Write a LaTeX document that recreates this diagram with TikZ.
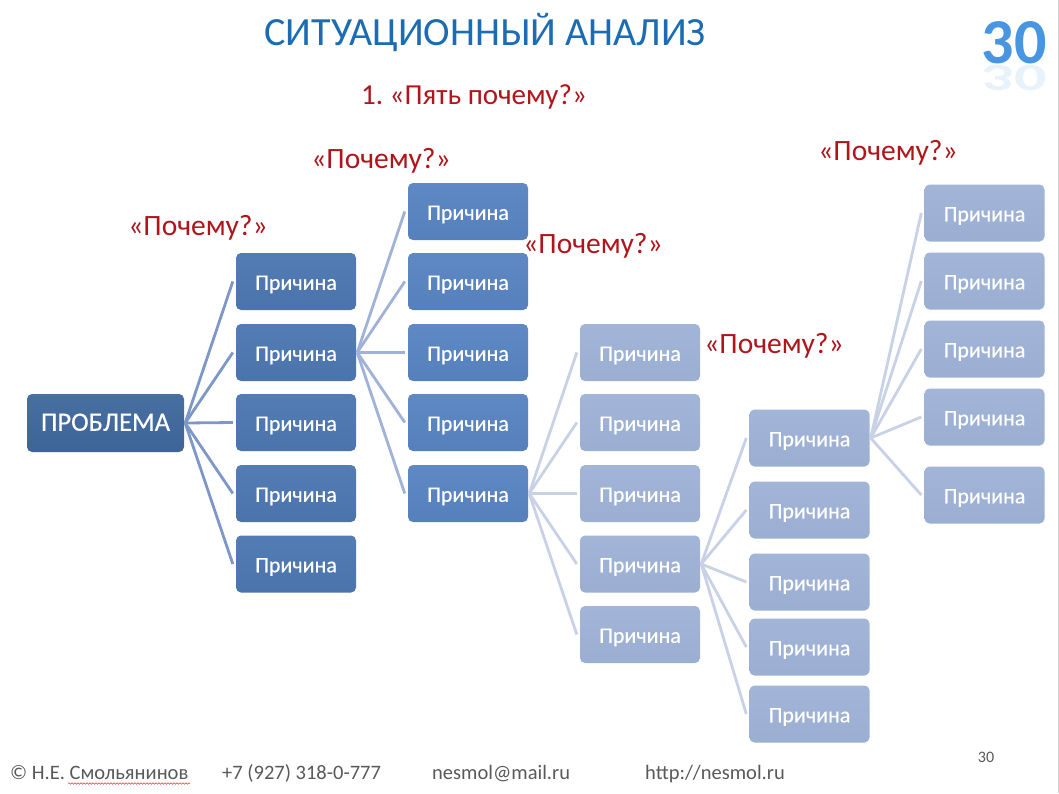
\documentclass[tikz,border=0pt]{standalone}
\usepackage{fontspec}
\setmainfont{Carlito}
\usetikzlibrary{decorations.pathmorphing}
\definecolor{titleblue}{HTML}{1C6CB4}
\definecolor{whyred}{HTML}{B0151B}
\definecolor{probc}{HTML}{41699E}
\definecolor{darkc}{HTML}{4D77B1}
\definecolor{midc}{HTML}{5884C1}
\definecolor{lightc}{HTML}{9EB2D6}
\definecolor{lineA}{HTML}{7D97C9}
\definecolor{lineB}{HTML}{A0B2D8}
\definecolor{lineC}{HTML}{C8D1E6}
\definecolor{footc}{HTML}{595959}
\definecolor{logoc}{HTML}{4896E2}
\tikzset{
  boxbase/.style={rectangle, rounded corners=5pt, minimum width=120pt, minimum height=57pt,
    text=white, inner sep=2pt, text height=16.5pt, text depth=0pt,
    font=\fontsize{22}{22}\selectfont\addfontfeature{FakeBold=0.4}},
  probbox/.style={boxbase, minimum width=157pt, minimum height=58pt, text height=15.5pt,
    top color=probc!96!white, bottom color=probc!96!black,
    font=\fontsize{26.5}{26.5}\selectfont\addfontfeature{FakeBold=0.4}},
  darkbox/.style={boxbase, top color=darkc!96!white, bottom color=darkc!97!black},
  midbox/.style={boxbase, top color=midc!96!white, bottom color=midc!97!black},
  lightbox/.style={boxbase, top color=lightc!96!white, bottom color=lightc!98!black},
  why/.style={text=whyred, font=\fontsize{29.5}{29.5}\selectfont, inner sep=0pt, yshift=-2pt},
  connA/.style={draw=lineA, line width=2.8pt},
  connB/.style={draw=lineB, line width=2.8pt},
  connC/.style={draw=lineC, line width=2.8pt},
  foot/.style={text=footc, font=\fontsize{20.5}{20.5}\selectfont, inner sep=0pt, anchor=base west}
}
\begin{document}
\begin{tikzpicture}[x=1pt, y=-1pt]
\path[use as bounding box, fill=white] (0,0) rectangle (1059,793);
\draw[gray!35, line width=1pt] (1058.5,0) -- (1058.5,793);

% title
\node[text=titleblue, font=\fontsize{40}{40}\selectfont, inner sep=0pt] (title) at (485,32) {СИТУАЦИОННЫЙ АНАЛИЗ};
\node[text=whyred, font=\fontsize{29}{29}\selectfont, inner sep=0pt] (sub) at (474,97) {1.\ «Пять почему?»};

% logo
\node[text=logoc, font=\bfseries\fontsize{64}{64}\selectfont, inner sep=0pt, anchor=base] (logo) at (1014,63) {30};
\node[text=logoc, opacity=0.12, font=\bfseries\fontsize{64}{64}\selectfont, inner sep=0pt, anchor=base, yscale=-0.6, transform shape] (logor) at (1014,65) {30};

% why labels
\node[why] (w1) at (198,226) {«Почему?»};
\node[why] (w2) at (381,159) {«Почему?»};
\node[why] (w3) at (593,244) {«Почему?»};
\node[why] (w4) at (774,344) {«Почему?»};
\node[why] (w5) at (888,151) {«Почему?»};

% problem
\node[probbox] (p) at (105.5,423) {ПРОБЛЕМА};

% column 1
\node[darkbox] (a1) at (296,281.5) {Причина};
\node[darkbox] (a2) at (296,352.5) {Причина};
\node[darkbox] (a3) at (296,422.5) {Причина};
\node[darkbox] (a4) at (296,493.5) {Причина};
\node[darkbox] (a5) at (296,564) {Причина};

% column 2
\node[midbox] (b1) at (468,211.5) {Причина};
\node[midbox] (b2) at (468,281.5) {Причина};
\node[midbox] (b3) at (468,352.5) {Причина};
\node[midbox] (b4) at (468,422.5) {Причина};
\node[midbox] (b5) at (468,493.5) {Причина};

% column 3
\node[lightbox] (c1) at (640,352.5) {Причина};
\node[lightbox] (c2) at (640,422.5) {Причина};
\node[lightbox] (c3) at (640,493.5) {Причина};
\node[lightbox] (c4) at (640,564) {Причина};
\node[lightbox] (c5) at (640,634.5) {Причина};

% column 4
\node[lightbox] (d1) at (809.5,438) {Причина};
\node[lightbox] (d2) at (809.5,510) {Причина};
\node[lightbox] (d3) at (809.5,582) {Причина};
\node[lightbox] (d4) at (809.5,647) {Причина};
\node[lightbox] (d5) at (809.5,714) {Причина};

% column 5
\node[lightbox] (e1) at (984.5,213) {Причина};
\node[lightbox] (e2) at (984.5,281) {Причина};
\node[lightbox] (e3) at (984.5,349) {Причина};
\node[lightbox] (e4) at (984.5,417) {Причина};
\node[lightbox] (e5) at (984.5,495) {Причина};

% connectors
\foreach \t in {a1,a2,a3,a4,a5} \draw[connA] ([xshift=1pt]p.east) -- ([xshift=-3pt]\t.west);
\foreach \t in {b1,b2,b3,b4,b5} \draw[connB] ([xshift=1pt]a2.east) -- ([xshift=-3pt]\t.west);
\foreach \t in {c1,c2,c3,c4,c5} \draw[connC] ([xshift=1pt]b5.east) -- ([xshift=-3pt]\t.west);
\foreach \t in {d1,d2,d3,d4,d5} \draw[connC] ([xshift=1pt]c4.east) -- ([xshift=-3pt]\t.west);
\foreach \t in {e1,e2,e3,e4,e5} \draw[connC] ([xshift=1pt]d1.east) -- ([xshift=-3pt]\t.west);

% footer
\node[foot] (f1) at (10,779) {© Н.Е. Смольянинов};
\node[foot] (f2) at (222,779) {+7 (927) 318-0-777};
\node[foot] (f3) at (432,779) {nesmol@mail.ru};
\node[foot] (f4) at (645,779) {http://nesmol.ru};
\node[text=footc, font=\fontsize{16}{16}\selectfont, inner sep=0pt] (pg) at (986,757) {30};
\coordinate (u1) at (68,783.5);
\coordinate (u2) at (190,783.5);
\draw[red!80, line width=0.5pt, decorate, decoration={snake, amplitude=0.8pt, segment length=3pt}] (u1) -- (u2);
\end{tikzpicture}
\end{document}
